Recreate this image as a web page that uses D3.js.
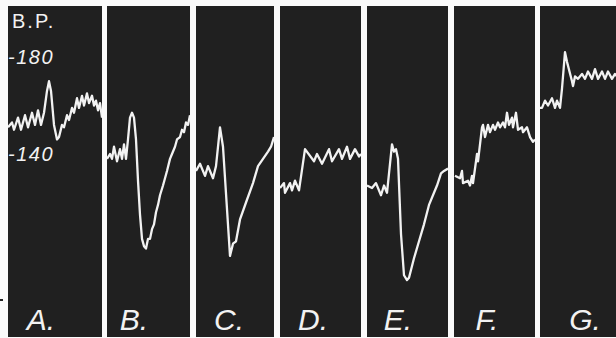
<!DOCTYPE html>
<html>
<head>
<meta charset="utf-8">
<script src="https://cdn.jsdelivr.net/npm/d3@7/dist/d3.min.js"></script>
<style>
  body { margin: 0; background: #fafafa; }
  svg { display: block; }
</style>
</head>
<body>
<svg id="chart" width="616" height="338"></svg>
<script>
// blood pressure (mm Hg) against time (s), one trace per panel
const panelNames = ['A.', 'B.', 'C.', 'D.', 'E.', 'F.', 'G.'];
const bpTicks = [180, 140];

const traceA = [[0.0,151],[0.4,153],[0.6,150],[1.0,155],[1.3,150],[1.7,156],[2.0,151],[2.4,157],[2.7,152],[3.0,158],[3.3,152],[3.6,157],[3.9,166],[4.1,170],[4.3,166],[4.6,152],[4.9,146],[5.1,147],[5.4,152],[5.6,151],[5.9,156],[6.1,154],[6.4,159],[6.6,157],[6.9,163],[7.1,159],[7.4,164],[7.6,160],[7.9,165],[8.1,161],[8.4,164],[8.6,160],[8.8,162],[9.0,158],[9.2,161],[9.4,155]];
const traceB = [[0.0,138],[0.3,140],[0.5,138],[0.7,143],[1.0,137],[1.3,142],[1.5,138],[1.7,144],[1.9,138],[2.1,146],[2.3,155],[2.5,157],[2.7,155],[2.9,146],[3.1,129],[3.3,115],[3.5,105],[3.7,102],[3.9,101],[4.1,105],[4.3,105],[4.5,109],[4.7,111],[4.9,116],[5.1,119],[5.3,123],[5.6,127],[5.8,130],[6.0,133],[6.3,138],[6.5,140],[6.8,143],[7.0,146],[7.3,147],[7.5,150],[7.7,149],[7.9,153],[8.1,152],[8.3,156]];
const traceC = [[0.0,133],[0.4,136],[0.9,131],[1.2,135],[1.7,130],[2.0,135],[2.4,151],[2.7,143],[3.4,98],[3.7,103],[4.0,104],[4.4,113],[5.0,120],[5.7,128],[6.2,135],[6.7,138],[7.2,141],[7.5,143],[7.8,147]];
const traceD = [[0.0,126],[0.4,128],[0.5,124],[1.0,128],[1.2,125],[1.5,129],[1.9,125],[2.5,142],[3.4,137],[3.7,140],[4.2,136],[4.9,142],[5.2,137],[5.9,142],[6.2,138],[6.7,143],[7.0,138],[7.5,142],[7.9,139],[8.1,140]];
const traceE = [[0.0,127],[0.5,126],[0.9,128],[1.4,123],[1.7,127],[2.0,124],[2.5,144],[2.7,141],[2.9,142],[3.1,138],[3.4,107],[3.7,90],[4.0,88],[4.2,89],[4.7,97],[5.2,104],[5.7,111],[6.2,119],[6.7,124],[7.0,127],[7.4,132],[7.7,133],[8.1,134]];
const traceF = [[0.1,131],[0.6,130],[0.8,133],[0.9,128],[1.4,129],[1.6,127],[1.8,131],[1.9,128],[2.3,140],[2.4,137],[2.8,151],[2.9,152],[3.1,147],[3.4,152],[3.6,149],[3.9,152],[4.1,150],[4.4,153],[4.6,151],[4.9,153],[5.1,151],[5.3,157],[5.5,152],[5.8,155],[5.9,151],[6.2,157],[6.4,150],[6.8,151],[6.9,149],[7.3,151],[7.6,147],[7.9,145],[8.1,146]];
const traceG = [[0.0,159],[0.2,159],[0.5,162],[0.8,160],[1.2,163],[1.5,159],[1.7,162],[2.0,159],[2.2,167],[2.5,182],[2.7,178],[3.2,170],[3.3,168],[3.5,172],[3.8,171],[4.2,173],[4.5,171],[4.8,174],[5.2,171],[5.5,175],[5.8,171],[6.2,174],[6.5,171],[6.8,174],[7.2,171],[7.5,173],[7.7,172]];

const traces = [traceA, traceB, traceC, traceD, traceE, traceF, traceG];

// layout
const width = 616;
const height = 338;
const pxPerSec = 10;
const panelTop = 6;
const panelBottom = 337;
const panelEdges = [[8, 102], [107, 190], [196, 274], [280, 361], [367, 448], [454, 535], [540, 620]];
const labelOffsets = [33, 27, 33, 33, 31, 33, 45];
const ink = '#f2f2f2';
const font = 'Liberation Sans, sans-serif';

const svg = d3.select('#chart');

const y = d3.scaleLinear().domain([140, 180]).range([154, 57]);

const line = d3.line();

panelEdges.forEach(function(edge, i) {
  const x = d3.scaleLinear()
    .domain([0, (edge[1] - edge[0]) / pxPerSec])
    .range([edge[0], edge[1]]);

  const g = svg.append('g').attr('class', 'panel');

  g.append('clipPath')
    .attr('id', 'clip' + i)
    .append('rect')
    .attr('x', edge[0])
    .attr('y', panelTop)
    .attr('width', edge[1] - edge[0])
    .attr('height', panelBottom - panelTop);

  g.append('rect')
    .attr('x', edge[0])
    .attr('y', panelTop)
    .attr('width', edge[1] - edge[0])
    .attr('height', panelBottom - panelTop)
    .attr('fill', '#202020');

  g.append('path')
    .datum(traces[i])
    .attr('clip-path', 'url(#clip' + i + ')')
    .attr('fill', 'none')
    .attr('stroke', ink)
    .attr('stroke-width', 2.3)
    .attr('stroke-linejoin', 'round')
    .attr('d', line.x(function(d) { return x(d[0]); }).y(function(d) { return y(d[1]); }));

  g.append('text')
    .attr('x', edge[0] + labelOffsets[i])
    .attr('y', 330)
    .attr('text-anchor', 'middle')
    .attr('fill', ink)
    .attr('font-family', font)
    .attr('font-style', 'italic')
    .attr('font-size', 30)
    .text(panelNames[i]);
});

// axis labels drawn in the first panel
svg.append('text')
  .attr('x', 12)
  .attr('y', 28)
  .attr('fill', ink)
  .attr('font-family', font)
  .attr('font-size', 20)
  .attr('letter-spacing', 2)
  .text('B.P.');

svg.selectAll('.tick-label')
  .data(bpTicks)
  .enter()
  .append('text')
  .attr('class', 'tick-label')
  .attr('x', 8)
  .attr('y', function(d) { return y(d); })
  .attr('dy', '0.35em')
  .attr('fill', ink)
  .attr('font-family', font)
  .attr('font-style', 'italic')
  .attr('font-size', 20)
  .attr('letter-spacing', 1.5)
  .text(function(d) { return '-' + d; });

// small stray mark left of the first panel
svg.append('line')
  .attr('x1', 0)
  .attr('x2', 3)
  .attr('y1', 300)
  .attr('y2', 300)
  .attr('stroke', '#222')
  .attr('stroke-width', 2);
</script>
</body>
</html>
